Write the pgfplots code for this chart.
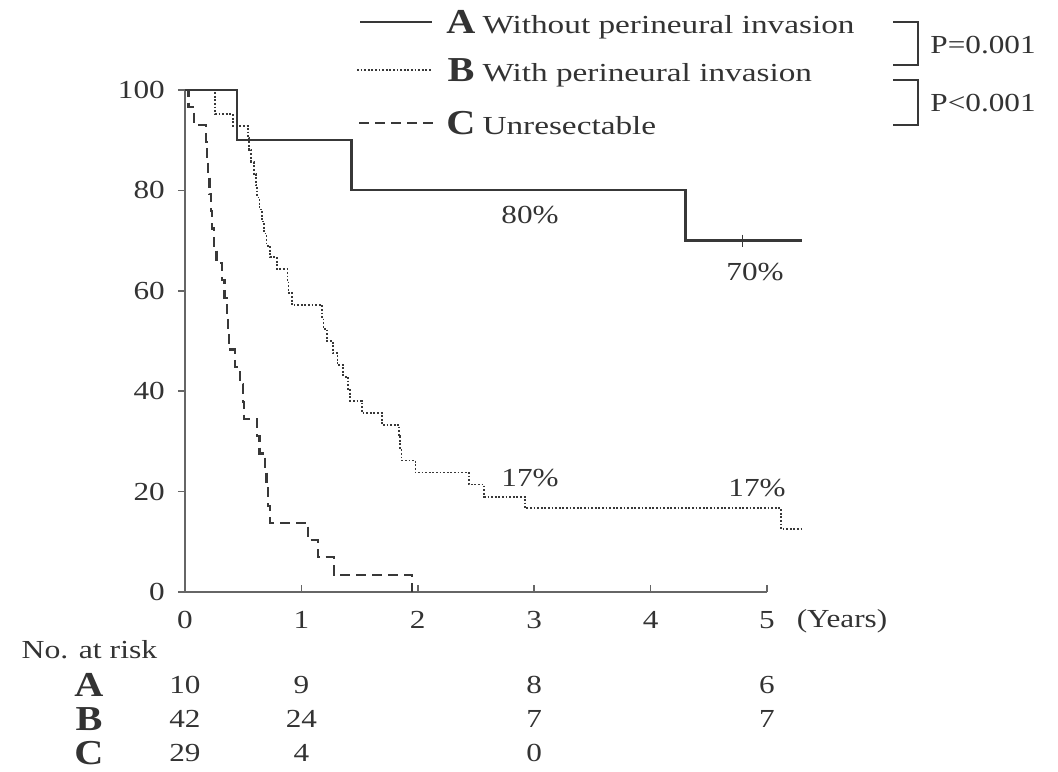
\documentclass[border=0pt]{standalone}
\usepackage{pgfplots}
\pgfplotsset{compat=1.18}
\usepackage{fontspec}
\setmainfont{Liberation Serif}

\definecolor{ink}{gray}{0.2}
\definecolor{curve}{gray}{0.22}
\definecolor{axisgray}{gray}{0.4}

\newcommand{\txt}{\fontsize{13}{15}\selectfont}
\newcommand{\grp}{\fontsize{17.5}{20}\selectfont\bfseries}

\begin{document}
\begin{tikzpicture}[every node/.style={text=ink}]
\path[use as bounding box] (-92.5pt,-89.5pt) rectangle (436.5pt,296pt);
\begin{axis}[
  at={(0pt,0pt)}, anchor=origin,
  scale only axis, width=291pt, height=251pt,
  xmin=0, xmax=5, ymin=0, ymax=100,
  clip=false,
  axis x line*=bottom, axis y line*=left,
  axis line style={axisgray, line width=0.8pt, -},
  xtick={0,1,2,3,4,5}, ytick={0,20,40,60,80,100},
  xtick align=inside, ytick align=outside,
  major tick length=3.5pt,
  tick style={axisgray, line width=0.8pt},
  /pgf/number format/assume math mode=true,
  ticklabel style={font=\txt, xscale=1.2, text=ink},
  yticklabel style={anchor=east, xshift=-2pt},
  xticklabel style={anchor=north, yshift=-6pt},
]
% A: without perineural invasion
\addplot[const plot, curve, line width=1.1pt] coordinates {
  (0,100) (0.45,90) (1.43,80) (4.30,70) (5.30,70)};
\addplot[only marks, mark=+, mark size=3pt, curve, line width=0.8pt] coordinates {(4.79,70)};
% B: with perineural invasion
\addplot[const plot, curve, line width=0.9pt, dash pattern=on 0.9pt off 0.9pt] coordinates {
  (0,100) (0.26,95.2) (0.41,92.9) (0.54,90.5) (0.55,88.1) (0.57,85.7)
  (0.59,83.3) (0.61,81.0) (0.62,78.6) (0.64,76.2) (0.66,73.8) (0.68,71.4)
  (0.70,69.0) (0.73,66.7) (0.79,64.3) (0.88,61.9) (0.89,59.5) (0.92,57.1)
  (1.18,54.8) (1.19,52.4) (1.22,50.0) (1.27,47.6) (1.31,45.2) (1.36,42.9)
  (1.40,40.5) (1.42,38.1) (1.52,35.7) (1.69,33.3) (1.84,31.0) (1.85,28.6)
  (1.86,26.2) (1.98,23.8) (2.44,21.4) (2.57,19.0) (2.92,16.7) (5.12,12.5)
  (5.30,12.5)};
% C: unresectable
\addplot[const plot, curve, line width=1.1pt, dash pattern=on 5pt off 3pt] coordinates {
  (0,100) (0.03,96.6) (0.08,93.1) (0.18,89.7) (0.19,86.2) (0.20,82.8)
  (0.21,79.3) (0.22,75.9) (0.23,72.4) (0.25,69.0) (0.27,65.5) (0.32,62.1)
  (0.34,58.6) (0.36,55.2) (0.37,51.7) (0.38,48.3) (0.43,44.8) (0.47,41.4)
  (0.50,37.9) (0.51,34.5) (0.62,31.0) (0.64,27.6) (0.69,24.1) (0.70,20.7)
  (0.71,17.2) (0.73,13.8) (1.06,10.3) (1.14,6.9) (1.28,3.4) (1.95,0)};
\end{axis}

% survival percentages
\node[font=\txt, xscale=1.2] at (172.5pt,188.5pt) {80\%};
\node[font=\txt, xscale=1.2] at (285pt,160pt) {70\%};
\node[font=\txt, xscale=1.2] at (172.5pt,57pt) {17\%};
\node[font=\txt, xscale=1.2] at (286pt,52pt) {17\%};
\node[font=\txt, xscale=1.2] at (328.5pt,-14.5pt) {(Years)};

% legend
\draw[curve, line width=1.1pt] (87.5pt,285pt) -- (123.5pt,285pt);
\draw[curve, line width=0.9pt, dash pattern=on 0.9pt off 0.9pt] (86pt,261pt) -- (123pt,261pt);
\draw[curve, line width=1.1pt, dash pattern=on 5pt off 3pt] (87pt,234.5pt) -- (124pt,234.5pt);
\node[font=\grp, xscale=1.15] at (138pt,285pt) {A};
\node[font=\grp, xscale=1.15] at (138pt,261pt) {B};
\node[font=\grp, xscale=1.15] at (138pt,234.5pt) {C};
\node[font=\txt, xscale=1.28, anchor=base west, inner xsep=0pt] at (148.5pt,279pt) {Without perineural invasion};
\node[font=\txt, xscale=1.28, anchor=base west, inner xsep=0pt] at (148.5pt,255pt) {With perineural invasion};
\node[font=\txt, xscale=1.28, anchor=base west, inner xsep=0pt] at (148.5pt,228.5pt) {Unresectable};

% log-rank comparisons
\draw[curve, line width=0.7pt] (354pt,285pt) -- (366.5pt,285pt) -- (366.5pt,263.5pt) -- (354pt,263.5pt);
\draw[curve, line width=0.7pt] (354pt,256pt) -- (366.5pt,256pt) -- (366.5pt,233.5pt) -- (354pt,233.5pt);
\node[font=\txt, xscale=1.2, anchor=west, inner xsep=0pt] at (372.5pt,273.5pt) {P=0.001};
\node[font=\txt, xscale=1.2, anchor=west, inner xsep=0pt] at (372.5pt,244.5pt) {P<0.001};

% number at risk
\node[font=\txt, xscale=1.22] at (-47.75pt,-29pt) {No. at risk};
\node[font=\grp, xscale=1.15] at (-48pt,-46.5pt) {A};
\node[font=\grp, xscale=1.15] at (-48pt,-63.5pt) {B};
\node[font=\grp, xscale=1.15] at (-48pt,-80.5pt) {C};
\foreach \x/\a/\b/\c in {0/10/42/29, 58.2/9/24/4, 174.6/8/7/0} {
  \node[font=\txt, xscale=1.2] at (\x pt,-46.5pt) {\a};
  \node[font=\txt, xscale=1.2] at (\x pt,-63.5pt) {\b};
  \node[font=\txt, xscale=1.2] at (\x pt,-80.5pt) {\c};
}
\node[font=\txt, xscale=1.2] at (291pt,-46.5pt) {6};
\node[font=\txt, xscale=1.2] at (291pt,-63.5pt) {7};
\end{tikzpicture}
\end{document}
